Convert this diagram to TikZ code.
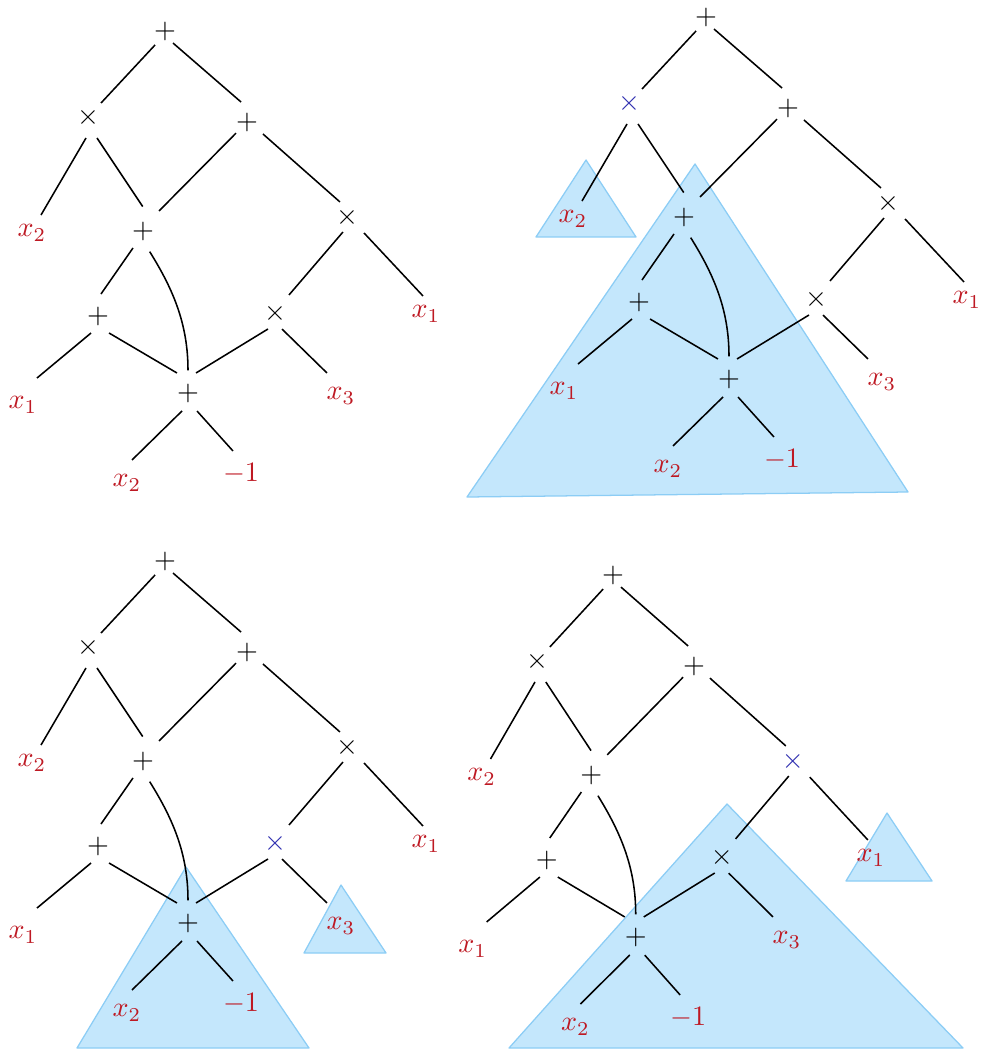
\documentclass[tikz,border=0pt]{standalone}
\definecolor{labred}{RGB}{190,25,35}
\definecolor{opblue}{RGB}{45,45,175}
\definecolor{trifill}{RGB}{196,231,252}
\definecolor{tridraw}{RGB}{140,205,245}
\tikzset{
  op/.style={inner sep=0pt},
  lab/.style={inner sep=0pt, text=labred},
  ln/.style={line width=0.55pt},
  tri/.style={fill=trifill, draw=tridraw, line width=0.45pt, line join=round},
}
% edge: parent, drop below parent (px), shorten at parent (px), child, rise above child (px), shorten at child (px)
\newcommand\edgeln[6]{%
  \draw[ln, shorten <={(#3)*0.3557pt}, shorten >={(#6)*0.3557pt}]
    ([yshift={-(#2)*0.3557pt}]#1.center) -- ([yshift={(#5)*0.3557pt}]#4.center);}
\newcommand\dagtree[4]{%
  \node[op] (#1root) at (165,31) {$+$};
  \node[op,text=#2] (#1L1) at (88,117) {$\times$};
  \node[op] (#1R1) at (247,122) {$+$};
  \node[lab] (#1xa) at (32,233) {$x_2$};
  \node[op] (#1M2) at (143,231) {$+$};
  \node[op,text=#3] (#1R2) at (347,217) {$\times$};
  \node[op] (#1M3) at (98,316) {$+$};
  \node[op,text=#4] (#1R3) at (275,313) {$\times$};
  \node[lab] (#1xb) at (426,314) {$x_1$};
  \node[lab] (#1xc) at (23,405) {$x_1$};
  \node[op] (#1B) at (188,393) {$+$};
  \node[lab] (#1xd) at (341,396) {$x_3$};
  \node[lab] (#1xe) at (127,483) {$x_2$};
  \node[lab] (#1m) at (241,474) {$-1$};
  \edgeln{#1root}{3.3}{14.6}{#1L1}{0}{19.1}
  \edgeln{#1root}{5.1}{10.6}{#1R1}{14.8}{7.9}
  \edgeln{#1L1}{17.6}{3.9}{#1xa}{2.6}{17.8}
  \edgeln{#1L1}{7.5}{16.2}{#1M2}{24}{0.5}
  \edgeln{#1R1}{0}{15.6}{#1M2}{3.8}{22.8}
  \edgeln{#1R1}{-2.1}{21.3}{#1R2}{8.8}{9.4}
  \edgeln{#1M2}{2.6}{17.5}{#1M3}{17.7}{5.2}
  \draw[ln, shorten <=4.5pt, shorten >=4.5pt] (#1M2.south) to[out=-58,in=90] (#1B.north);
  \edgeln{#1R2}{10.3}{6.2}{#1R3}{1.7}{21.5}
  \edgeln{#1R2}{-2.2}{24.9}{#1xb}{14.8}{4.4}
  \edgeln{#1M3}{11.2}{9.1}{#1xc}{15.3}{18.2}
  \edgeln{#1M3}{10.5}{12.8}{#1B}{13.5}{12.8}
  \edgeln{#1R3}{11.7}{8.2}{#1B}{15.1}{9.4}
  \edgeln{#1R3}{9.2}{9.8}{#1xd}{9.3}{19.6}
  \edgeln{#1B}{12.1}{8.4}{#1xe}{18.1}{7}
  \edgeln{#1B}{8}{13.5}{#1m}{14.1}{12}
}
\begin{document}
\begin{tikzpicture}[x=0.0125cm,y=-0.0125cm]
  \useasboundingbox (0,0) rectangle (981,1052);
  % highlighted sub-DAGs
  \filldraw[tri] (586,160) -- (536,237) -- (636,237) -- cycle;
  \filldraw[tri] (695,164) -- (467,497) -- (908,492) -- cycle;
  \filldraw[tri] (186,867) -- (77,1048) -- (309,1048) -- cycle;
  \filldraw[tri] (341,885) -- (304,953) -- (386,953) -- cycle;
  \filldraw[tri] (727,804) -- (509,1048) -- (963,1048) -- cycle;
  \filldraw[tri] (887,813) -- (846,881) -- (932,881) -- cycle;
  % panel 1
  \begin{scope}
    \dagtree{a}{black}{black}{black}
  \end{scope}
  % panel 2
  \begin{scope}[shift={(541,-14)}]
    \dagtree{b}{opblue}{black}{black}
  \end{scope}
  % panel 3
  \begin{scope}[shift={(0,530)}]
    \dagtree{c}{black}{black}{opblue}
  \end{scope}
  % panel 4
  \begin{scope}[shift={(450,544)},xscale=0.988]
    \dagtree{d}{black}{opblue}{black}
  \end{scope}
\end{tikzpicture}
\end{document}
